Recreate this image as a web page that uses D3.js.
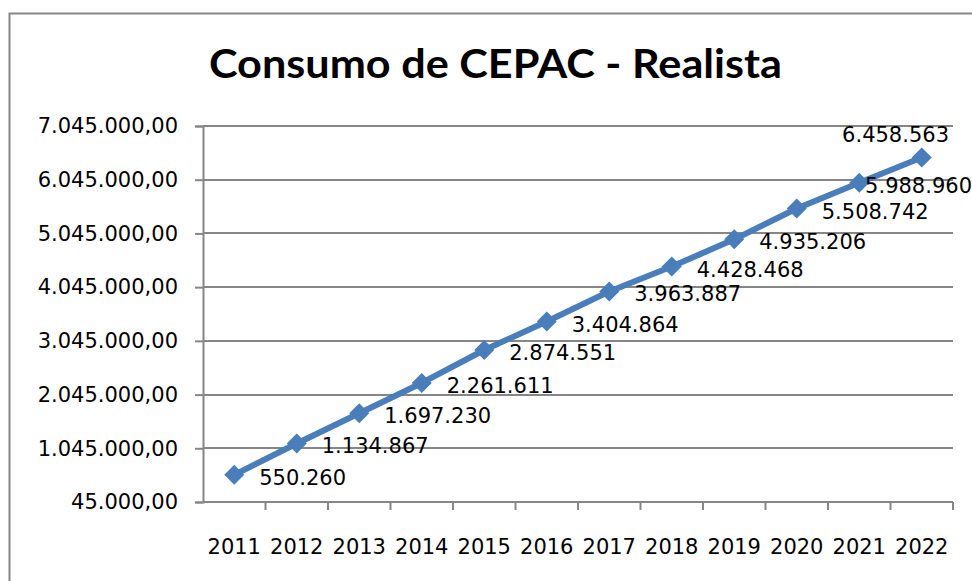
<!DOCTYPE html>
<html>
<head>
<meta charset="utf-8">
<script src="https://cdn.jsdelivr.net/npm/d3@7"></script>
<style>
  body { margin: 0; background: #fff; }
  svg { display: block; }
</style>
</head>
<body>
<div id="chart"></div>
<script>
// chart data
const years = ["2011", "2012", "2013", "2014", "2015", "2016", "2017", "2018", "2019", "2020", "2021", "2022"];
const consumo = [550260, 1134867, 1697230, 2261611, 2874551, 3404864, 3963887, 4428468, 4935206, 5508742, 5988960, 6458563];
const yTicks = [45000, 1045000, 2045000, 3045000, 4045000, 5045000, 6045000, 7045000];
const title = "Consumo de CEPAC - Realista";

const width = 972;
const height = 581;
const margin = ({top: 126, right: 19, bottom: 79, left: 203});
const gridColor = "#868686";
const lineColor = "#4a7ebb";

// pt-BR number formats
const br = d3.formatLocale({decimal: ",", thousands: ".", grouping: [3], currency: ["R$", ""]});
const fmtAxis = br.format(",.2f");
const fmtLabel = br.format(",.0f");

const svg = d3.select("#chart").append("svg")
    .attr("width", width)
    .attr("height", height)
    .style("font-family", "'DejaVu Sans', sans-serif");

// outer chart border (runs off the right and bottom edge)
svg.append("rect")
    .attr("x", 9.5)
    .attr("y", 13.5)
    .attr("width", 1000)
    .attr("height", 700)
    .attr("fill", "none")
    .attr("stroke", gridColor)
    .attr("stroke-width", 2);

svg.append("text")
    .attr("x", 209)
    .attr("y", 78)
    .attr("textLength", 573)
    .attr("lengthAdjust", "spacingAndGlyphs")
    .style("font-family", "Lato, 'Open Sans', sans-serif")
    .style("font-weight", "bold")
    .style("font-size", "40px")
    .attr("fill", "#000")
    .text(title);

const x = d3.scaleBand()
    .domain(years)
    .range([margin.left, width - margin.right])
    .padding(0);

const y = d3.scaleLinear()
    .domain([45000, 7045000])
    .range([height - margin.bottom, margin.top]);

// horizontal gridlines
svg.append("g")
    .selectAll("line")
    .data(yTicks.slice(1))
    .join("line")
    .attr("x1", margin.left)
    .attr("x2", width - margin.right)
    .attr("y1", d => Math.round(y(d)))
    .attr("y2", d => Math.round(y(d)))
    .attr("stroke", gridColor)
    .attr("stroke-width", 2);

// y axis
const yAxis = svg.append("g")
    .attr("transform", `translate(${margin.left},0)`)
    .call(d3.axisLeft(y).tickValues(yTicks).tickFormat(fmtAxis).tickSize(8).tickPadding(17));
yAxis.select(".domain").attr("stroke", gridColor).attr("stroke-width", 2);
yAxis.selectAll(".tick line").attr("stroke", gridColor).attr("stroke-width", 2);
yAxis.selectAll(".tick text")
    .attr("fill", "#000")
    .style("font-size", "21px")
    .style("font-family", "'DejaVu Sans', sans-serif");

// x axis, ticks between categories
const xAxisG = svg.append("g")
    .attr("transform", `translate(0,${height - margin.bottom})`);
xAxisG.append("line")
    .attr("x1", margin.left)
    .attr("x2", width - margin.right)
    .attr("stroke", gridColor)
    .attr("stroke-width", 2);
xAxisG.selectAll(".xtick")
    .data(years.slice(1).concat(["end"]))
    .join("line")
    .attr("class", "xtick")
    .attr("x1", d => d === "end" ? x.range()[1] : x(d))
    .attr("x2", d => d === "end" ? x.range()[1] : x(d))
    .attr("y1", 0)
    .attr("y2", 8)
    .attr("stroke", gridColor)
    .attr("stroke-width", 2);
xAxisG.selectAll(".xlabel")
    .data(years)
    .join("text")
    .attr("class", "xlabel")
    .attr("x", d => x(d) + x.bandwidth() / 2)
    .attr("y", 52)
    .attr("text-anchor", "middle")
    .style("font-size", "21px")
    .attr("fill", "#000")
    .text(d => d);

const cx = (d, i) => x(years[i]) + x.bandwidth() / 2;

// series line
svg.append("path")
    .datum(consumo)
    .attr("fill", "none")
    .attr("stroke", lineColor)
    .attr("stroke-width", 6)
    .attr("stroke-linejoin", "round")
    .attr("d", d3.line().x(cx).y(d => y(d)));

// diamond markers
svg.append("g")
    .selectAll("path")
    .data(consumo)
    .join("path")
    .attr("transform", (d, i) => `translate(${cx(d, i)},${y(d)})`)
    .attr("d", "M0,-10L10,0L0,10L-10,0Z")
    .attr("fill", lineColor);

// data labels: right of the point, last one above; keep inside the picture
const labels = svg.append("g")
    .style("font-size", "21px")
    .attr("fill", "#000");

consumo.forEach((v, i) => {
  const px = cx(v, i);
  const py = y(v);
  const t = labels.append("text").text(fmtLabel(v));
  const w = t.node().getComputedTextLength();
  if (i === consumo.length - 1) {
    t.attr("x", Math.min(px - w / 2, width - 23 - w)).attr("y", py - 16);
  } else {
    t.attr("x", Math.min(px + 25, width - w)).attr("y", py + 10);
  }
});
</script>
</body>
</html>
